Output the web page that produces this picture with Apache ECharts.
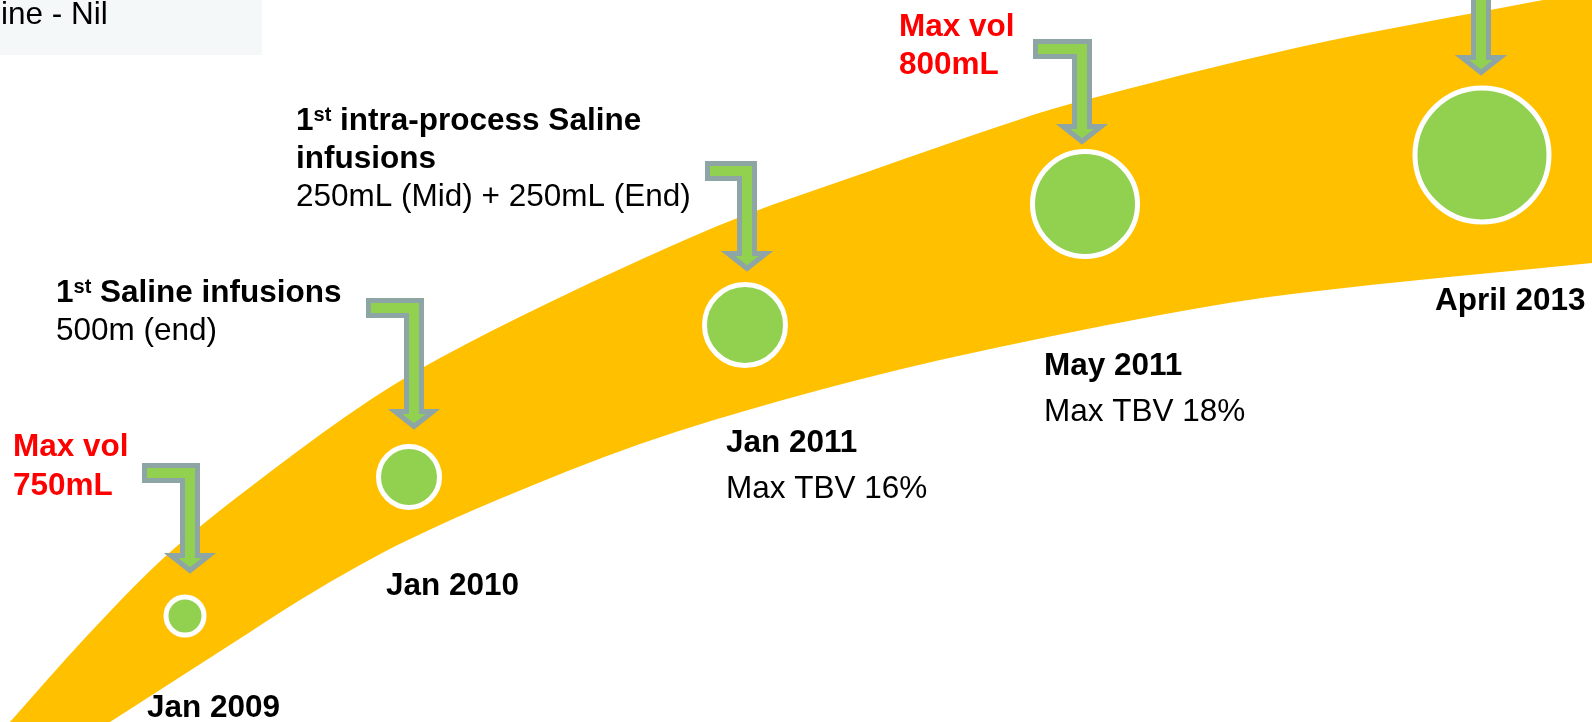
<!DOCTYPE html>
<html>
<head>
<meta charset="utf-8">
<title>Saline infusion timeline</title>
<script src="https://cdn.jsdelivr.net/npm/echarts@6/dist/echarts.min.js"></script>
<style>
  html, body { margin: 0; padding: 0; background: #fff; }
  #chart { width: 1592px; height: 722px; }
</style>
</head>
<body>
<div id="chart"></div>
<script>
  // plot space is 1592 x 722, y counted downwards (axis is inverted)
  const milestones = ['Jan 2009', 'Jan 2010', 'Jan 2011', 'May 2011', 'April 2013']
  const dotX = [185, 409, 745, 1085, 1482]
  const dotY = [616, 477, 325, 204, 155]
  const dotSize = [38, 61, 81, 105, 134]

  // bent arrows pointing down at each dot
  const arrowX = [190, 414, 747, 1082, 1481]
  const arrowTopY = [463, 298, 161, 39, -40]
  const arrowTipY = [574, 430, 272, 145, 76]
  const arrowTailX = [142, 366, 705, 1033, null]

  // edges of the yellow band
  const upperX = [-50, 10, 85, 168, 270, 370, 440, 540, 640, 740, 870, 1000, 1070, 1300, 1543, 1660]
  const upperY = [790, 722, 638, 554, 472, 400, 358, 307, 260, 217, 171, 126, 104, 47, 0, -22]
  const lowerX = [-10, 110, 233, 300, 360, 408, 497, 640, 783, 940, 1160, 1300, 1592, 1660]
  const lowerY = [800, 722, 643, 600, 565, 540, 500, 444, 400, 360, 315, 293, 263, 257]

  const FONT = '"Liberation Sans", Arial, sans-serif'
  const chart = echarts.init(document.getElementById('chart'))

  // smooth edge through the given pixel points (cubic hermite in x)
  function edgeSegments(p) {
    const n = p.length
    const m = p.map((pt, i) => {
      const a = p[Math.max(i - 1, 0)]
      const b = p[Math.min(i + 1, n - 1)]
      return (b[1] - a[1]) / (b[0] - a[0])
    })
    const segs = []
    for (let i = 0; i < n - 1; i++) {
      const h = p[i + 1][0] - p[i][0]
      segs.push({
        c1: [p[i][0] + h / 3, p[i][1] + m[i] * h / 3],
        c2: [p[i + 1][0] - h / 3, p[i + 1][1] - m[i + 1] * h / 3]
      })
    }
    return segs
  }

  function renderBand(params, api) {
    const up = upperX.map((x, i) => api.coord([x, upperY[i]]))
    const lo = lowerX.map((x, i) => api.coord([x, lowerY[i]]))
    const su = edgeSegments(up)
    const sl = edgeSegments(lo)
    const f = (pt) => pt[0].toFixed(2) + ' ' + pt[1].toFixed(2)
    let d = 'M ' + f(up[0])
    su.forEach((s, i) => { d += ' C ' + f(s.c1) + ' ' + f(s.c2) + ' ' + f(up[i + 1]) })
    d += ' L ' + f(lo[lo.length - 1])
    for (let i = sl.length - 1; i >= 0; i--) {
      d += ' C ' + f(sl[i].c2) + ' ' + f(sl[i].c1) + ' ' + f(lo[i])
    }
    d += ' Z'
    return {
      type: 'path',
      shape: { pathData: d },
      style: { fill: '#FFC000' }
    }
  }

  function renderArrow(params, api) {
    const i = params.dataIndex
    const c = api.coord([arrowX[i], arrowTopY[i]])
    const tip = api.coord([arrowX[i], arrowTipY[i]])
    const top = c[1] + 2.5
    const end = tip[1] - 3.5
    const hw = 7.5
    const hh = 19
    const headTop = end - 15
    const pts = []
    if (arrowTailX[i] != null) {
      const tail = api.coord([arrowTailX[i], 0])[0] + 2.5
      pts.push([tail, top], [c[0] + hw, top], [c[0] + hw, headTop], [c[0] + hh, headTop],
        [c[0], end], [c[0] - hh, headTop], [c[0] - hw, headTop], [c[0] - hw, top + 15], [tail, top + 15])
    } else {
      pts.push([c[0] - hw, top], [c[0] + hw, top], [c[0] + hw, headTop], [c[0] + hh, headTop],
        [c[0], end], [c[0] - hh, headTop], [c[0] - hw, headTop])
    }
    return {
      type: 'polygon',
      shape: { points: pts },
      style: { fill: '#92D050', stroke: '#8EA5A5', lineWidth: 5, lineJoin: 'miter' }
    }
  }

  const rich = {
    b: { fontFamily: FONT, fontSize: 31.5, fontWeight: 'bold', color: '#000', lineHeight: 32 },
    sup: { fontFamily: FONT, fontSize: 20, fontWeight: 'bold', color: '#000', lineHeight: 20, verticalAlign: 'top' }
  }

  // one text line: x, baseline y, text, bold, colour
  function line(x, baseline, text, bold, color) {
    return {
      type: 'text',
      x: x,
      y: baseline - 11,
      silent: true,
      style: {
        text: text,
        fontFamily: FONT,
        fontSize: 31.5,
        fontWeight: bold ? 'bold' : 'normal',
        fill: color || '#000',
        verticalAlign: 'middle',
        rich: rich
      }
    }
  }

  const notes = [
    line(1, 26, 'ine - Nil'),
    line(13, 458, 'Max vol', true, '#FF0000'),
    line(13, 497, '750mL', true, '#FF0000'),
    line(147, 719, milestones[0], true),
    line(56, 304, '{b|1}{sup|st}{b| Saline infusions}', true),
    line(56, 342, '500m (end)'),
    line(386, 597, milestones[1], true),
    line(296, 132, '{b|1}{sup|st}{b| intra-process Saline}', true),
    line(296, 170, 'infusions', true),
    line(296, 208, '250mL (Mid) + 250mL (End)'),
    line(726, 454, milestones[2], true),
    line(726, 500, 'Max TBV 16%'),
    line(1044, 377, milestones[3], true),
    line(1044, 423, 'Max TBV 18%'),
    line(899, 38, 'Max vol', true, '#FF0000'),
    line(899, 76, '800mL', true, '#FF0000'),
    line(1435, 312, milestones[4], true)
  ]

  const option = {
    backgroundColor: '#fff',
    animation: false,
    grid: { left: 0, right: 0, top: 0, bottom: 0 },
    xAxis: { type: 'value', min: 0, max: 1592, show: false },
    yAxis: { type: 'value', min: 0, max: 722, inverse: true, show: false },
    graphic: [
      { type: 'rect', x: 0, y: 0, shape: { width: 262, height: 55 }, style: { fill: '#F4F8F9' }, z: -1 }
    ].concat(notes),
    series: [
      {
        type: 'custom',
        name: 'band',
        renderItem: renderBand,
        data: [[0, 0]],
        silent: true,
        z: 1
      },
      {
        type: 'custom',
        name: 'arrows',
        renderItem: renderArrow,
        data: arrowX.map((x, i) => [x, arrowTipY[i]]),
        silent: true,
        z: 3
      },
      {
        type: 'scatter',
        name: 'milestones',
        data: dotX.map((x, i) => ({ name: milestones[i], value: [x, dotY[i]], symbolSize: dotSize[i] })),
        symbol: 'circle',
        itemStyle: { color: '#92D050', borderColor: '#fff', borderWidth: 5, opacity: 1 },
        silent: true,
        z: 4
      }
    ]
  }

  chart.setOption(option)
</script>
</body>
</html>
